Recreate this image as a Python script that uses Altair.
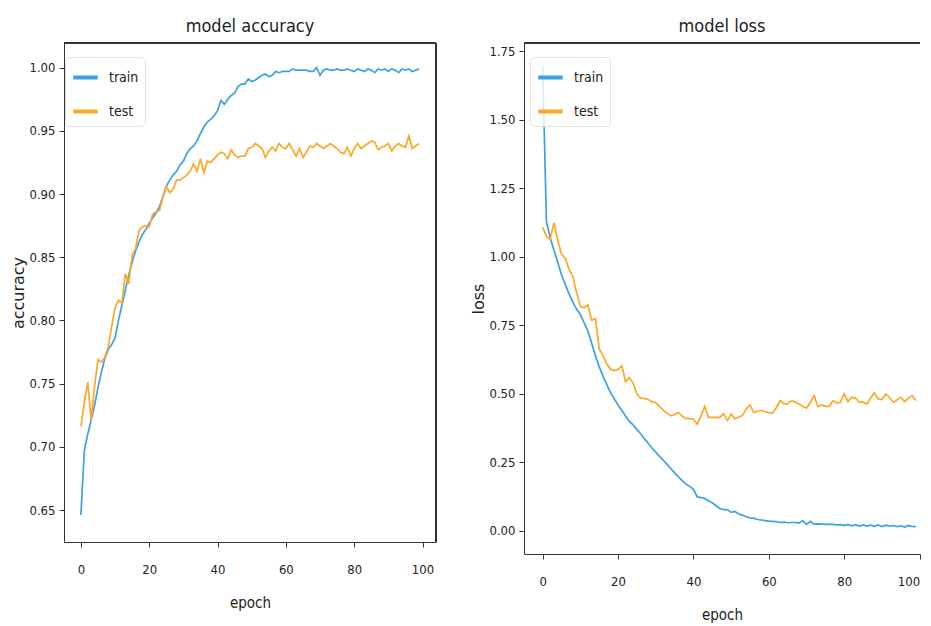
import altair as alt
import pandas as pd

epochs = list(range(100))

train_acc = [0.646, 0.697, 0.710, 0.721, 0.733, 0.747, 0.759, 0.770, 0.777, 0.781,
             0.786, 0.800, 0.812, 0.824, 0.836, 0.846, 0.855, 0.862, 0.868, 0.872,
             0.877, 0.881, 0.885, 0.890, 0.898, 0.906, 0.911, 0.915, 0.918, 0.923,
             0.926, 0.932, 0.936, 0.938, 0.942, 0.948, 0.953, 0.957, 0.959, 0.962,
             0.966, 0.974, 0.971, 0.975, 0.978, 0.980, 0.985, 0.987, 0.987, 0.991,
             0.989, 0.990, 0.992, 0.994, 0.995, 0.993, 0.994, 0.997, 0.996, 0.997,
             0.997, 0.997, 0.999, 0.998, 0.998, 0.998, 0.998, 0.997, 0.997, 1.000,
             0.994, 0.998, 0.999, 0.998, 0.998, 0.999, 0.998, 0.998, 0.999, 0.998,
             0.997, 0.999, 0.998, 0.997, 0.999, 0.998, 0.996, 0.999, 0.998, 0.999,
             0.997, 0.999, 0.998, 0.996, 0.999, 0.998, 0.999, 0.997, 0.998, 0.999]

test_acc = [0.716, 0.735, 0.751, 0.721, 0.748, 0.769, 0.767, 0.771, 0.779, 0.795,
            0.810, 0.816, 0.814, 0.837, 0.829, 0.852, 0.857, 0.871, 0.874, 0.875,
            0.874, 0.884, 0.886, 0.887, 0.897, 0.906, 0.901, 0.904, 0.911, 0.911,
            0.913, 0.915, 0.918, 0.924, 0.918, 0.928, 0.917, 0.926, 0.925, 0.928,
            0.931, 0.933, 0.932, 0.928, 0.935, 0.931, 0.929, 0.930, 0.930, 0.936,
            0.937, 0.940, 0.938, 0.936, 0.929, 0.934, 0.937, 0.934, 0.940, 0.937,
            0.936, 0.940, 0.935, 0.930, 0.936, 0.929, 0.933, 0.938, 0.937, 0.940,
            0.938, 0.936, 0.938, 0.940, 0.938, 0.936, 0.933, 0.932, 0.937, 0.930,
            0.936, 0.940, 0.936, 0.938, 0.940, 0.942, 0.941, 0.935, 0.937, 0.938,
            0.940, 0.934, 0.938, 0.940, 0.938, 0.937, 0.946, 0.936, 0.938, 0.940]

train_loss = [1.700, 1.130, 1.070, 1.025, 0.980, 0.935, 0.900, 0.865, 0.835, 0.810,
              0.790, 0.760, 0.730, 0.685, 0.640, 0.600, 0.565, 0.535, 0.505, 0.482,
              0.460, 0.440, 0.420, 0.400, 0.387, 0.370, 0.355, 0.337, 0.320, 0.303,
              0.288, 0.272, 0.258, 0.243, 0.228, 0.212, 0.198, 0.184, 0.172, 0.163,
              0.152, 0.125, 0.122, 0.118, 0.110, 0.103, 0.092, 0.082, 0.078, 0.078,
              0.068, 0.071, 0.062, 0.058, 0.052, 0.048, 0.047, 0.042, 0.040, 0.038,
              0.036, 0.035, 0.034, 0.031, 0.032, 0.030, 0.031, 0.031, 0.029, 0.038,
              0.024, 0.035, 0.025, 0.026, 0.025, 0.024, 0.025, 0.024, 0.022, 0.023,
              0.020, 0.024, 0.019, 0.023, 0.018, 0.022, 0.018, 0.021, 0.017, 0.022,
              0.016, 0.021, 0.018, 0.020, 0.016, 0.019, 0.014, 0.020, 0.017, 0.016]

test_loss = [1.108, 1.075, 1.065, 1.125, 1.060, 1.010, 0.995, 0.955, 0.930, 0.870,
             0.820, 0.815, 0.825, 0.770, 0.775, 0.665, 0.640, 0.610, 0.590, 0.585,
             0.590, 0.603, 0.545, 0.560, 0.540, 0.500, 0.485, 0.484, 0.480, 0.472,
             0.468, 0.455, 0.440, 0.430, 0.420, 0.425, 0.432, 0.420, 0.410, 0.410,
             0.408, 0.390, 0.420, 0.455, 0.415, 0.415, 0.415, 0.415, 0.428, 0.403,
             0.427, 0.410, 0.415, 0.422, 0.445, 0.460, 0.432, 0.438, 0.440, 0.435,
             0.432, 0.430, 0.450, 0.476, 0.465, 0.463, 0.476, 0.470, 0.463, 0.455,
             0.448, 0.470, 0.494, 0.455, 0.460, 0.455, 0.455, 0.476, 0.467, 0.470,
             0.500, 0.472, 0.488, 0.485, 0.470, 0.470, 0.463, 0.485, 0.504, 0.482,
             0.480, 0.500, 0.488, 0.470, 0.478, 0.488, 0.472, 0.485, 0.494, 0.476]

series_names = ["train", "test"]
series_colors = ["#3aa2e6", "#ffa726"]
epoch_ticks = [0, 20, 40, 60, 80, 100]
acc_ticks = [0.65, 0.70, 0.75, 0.80, 0.85, 0.90, 0.95, 1.00]
loss_ticks = [0.00, 0.25, 0.50, 0.75, 1.00, 1.25, 1.50, 1.75]

FONT = "DejaVu Sans Condensed, Liberation Sans, sans-serif"
INK = "#222222"
FRAME = "#333333"


def make_df(a, b):
    return pd.DataFrame({
        "epoch": epochs + epochs,
        "value": a + b,
        "series": ["train"] * len(a) + ["test"] * len(b),
    })


def panel(df, title, ytitle, ydomain, yticks, xdomain, w, h, lx, ly, right_frame, flush):
    color = alt.Color(
        "series:N",
        scale=alt.Scale(domain=series_names, range=series_colors),
        legend=alt.Legend(
            title=None, orient="none", legendX=lx, legendY=ly,
            symbolType="stroke", symbolStrokeWidth=4, symbolSize=600,
            labelFontSize=14, labelFont=FONT, labelColor=INK, labelOffset=9,
            rowPadding=11, padding=6, fillColor="rgba(255,255,255,0.8)",
            strokeColor="#e2e2e2", cornerRadius=4,
        ),
    )
    xaxis = dict(values=epoch_ticks, title="epoch", format="d")
    if flush:
        xaxis.update(labelFlush=6, labelFlushOffset=0)
    x = alt.X("epoch:Q",
              scale=alt.Scale(domain=xdomain, nice=False, zero=False),
              axis=alt.Axis(**xaxis))
    y = alt.Y("value:Q",
              scale=alt.Scale(domain=ydomain, nice=False, zero=False),
              axis=alt.Axis(values=yticks, format=".2f", title=ytitle))
    layers = []
    for name in series_names:
        layers.append(
            alt.Chart(df).transform_filter(alt.datum.series == name)
            .mark_line(strokeWidth=1.7, clip=True)
            .encode(x=x, y=y, color=color)
        )
    top = alt.Chart(df).mark_rule(color=FRAME, strokeWidth=1).encode(
        x=alt.value(0), x2=alt.value(w), y=alt.value(0))
    layers.append(top)
    if right_frame:
        right = alt.Chart(df).mark_rule(color=FRAME, strokeWidth=1).encode(
            x=alt.value(w), y=alt.value(0), y2=alt.value(h))
        layers.append(right)
    return alt.layer(*layers).properties(
        width=w, height=h,
        title=alt.TitleParams(title, font=FONT, fontSize=18, fontWeight="normal",
                              color=INK, offset=7),
    )


left = panel(make_df(train_acc, test_acc), "model accuracy", "accuracy",
             [0.6247, 1.0195], acc_ticks, [-4.95, 103.95], 372, 499, 1, 14, True, False)
right = panel(make_df(train_loss, test_loss), "model loss", "loss",
              [-0.084, 1.781], loss_ticks, [-4.95, 100.1], 396, 511, 6, 14, False, True)

chart = (
    alt.hconcat(left, right, spacing=33)
    .resolve_scale(color="independent")
    .resolve_legend(color="independent")
    .properties(padding={"left": 2, "top": 9, "right": 0, "bottom": 0})
    .configure_view(stroke="transparent")
    .configure_axis(
        grid=False, domainColor=FRAME, domainWidth=1, tickColor=FRAME, tickSize=5,
        labelFont=FONT, labelFontSize=13, labelColor=INK,
        titleFont="DejaVu Sans", titleFontSize=16, titleFontWeight="normal", titleColor=INK,
    )
    .configure_axisX(labelPadding=16, titlePadding=19, titleFont=FONT, titleFontSize=15)
    .configure_axisY(labelPadding=4, titlePadding=2)
)

chart.save("out.html", embed_options={"renderer": "svg", "actions": False})
